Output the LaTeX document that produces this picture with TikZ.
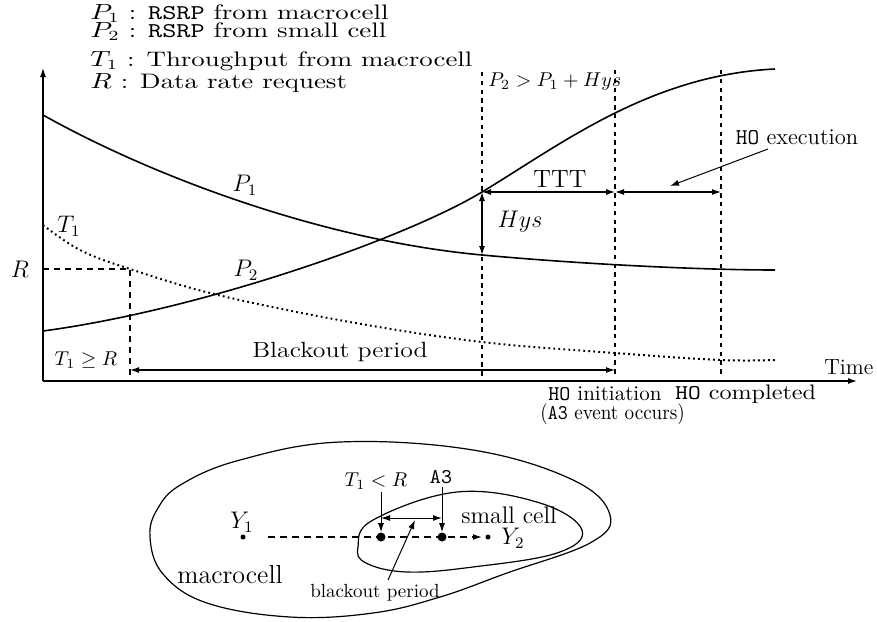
\documentclass[tikz,border=0pt]{standalone}
\usetikzlibrary{arrows.meta}
\begin{document}
\begin{tikzpicture}[x=0.5pt,y=-0.5pt,
  leg/.style={inner sep=0pt,font=\fontsize{10.5}{12}\selectfont,anchor=base west},
  lbl/.style={inner sep=0pt,font=\fontsize{12}{13}\selectfont},
  small/.style={inner sep=0pt,font=\fontsize{9.5}{10}\selectfont},
  mid/.style={inner sep=0pt,font=\fontsize{10.5}{12}\selectfont},
  curve/.style={line width=0.8pt},
  vdash/.style={line width=0.9pt,dash pattern=on 2.2pt off 2.2pt},
  tip/.style={-{Latex[length=4.5pt,width=3pt]}},
  tips/.style={{Latex[length=4.5pt,width=3pt]}-{Latex[length=4.5pt,width=3pt]}},
  dotc/.style={line width=1pt,dash pattern=on 0.9pt off 1.6pt},
  blob/.style={line width=0.6pt}]
\useasboundingbox (0,0) rectangle (877,621);
% legend
\node[leg] (l1) at (90,19) {\scalebox{1.28}[1]{$P_1$ : \texttt{RSRP} from macrocell}};
\node[leg] (l2) at (90,37) {\scalebox{1.28}[1]{$P_2$ : \texttt{RSRP} from small cell}};
\node[leg] (l3) at (90,66) {\scalebox{1.28}[1]{$T_1$ : Throughput from macrocell}};
\node[leg] (l4) at (90,88) {\scalebox{1.28}[1]{$R$ : Data rate request}};
% axes
\coordinate (o) at (43,381);
\coordinate (ytop) at (43,68);
\coordinate (xend) at (857,381);
\draw[line width=0.6pt,tip] (o) -- (ytop);
\draw[line width=0.6pt,tip] (o) -- (xend);
\node[inner sep=0pt,font=\fontsize{11}{12}\selectfont,anchor=west] (time) at (824,367) {Time};
% curves
\draw[curve] (43,115) .. controls (150,175) and (320,240) .. (482,255)
  .. controls (580,264) and (700,270) .. (775,270);
\draw[curve] (43,331) .. controls (200,310) and (404,239) .. (482,192)
  .. controls (560,145) and (650,75) .. (775,69);
\draw[dotc] plot[smooth,tension=0.6] coordinates {(43,225) (80,250) (130,269) (218,295) (350,322) (482,342) (615,353) (720,360) (775,360)};
\node[lbl] (p1) at (245,185) {$P_1$};
\node[lbl] (p2) at (246,270) {$P_2$};
\node[lbl] (t1) at (69,226) {$T_1$};
\node[lbl] (r) at (20,269) {$R$};
% R level
\coordinate (rl) at (43,269);
\coordinate (rc) at (130,269);
\coordinate (rb) at (130,381);
\draw[line width=0.6pt,dash pattern=on 3pt off 2.5pt] (rl) -- (rc) -- (rb);
\node[inner sep=0pt,font=\fontsize{10}{11}\selectfont] (t1ger) at (86,360) {$T_1\geq R$};
% vertical dashed lines
\coordinate (v1t) at (482,72); \coordinate (v1b) at (482,377);
\coordinate (v2t) at (615,70); \coordinate (v2b) at (615,377);
\coordinate (v3t) at (721,70); \coordinate (v3b) at (721,377);
\draw[vdash] (v1t) -- (v1b);
\draw[vdash] (v2t) -- (v2b);
\draw[vdash] (v3t) -- (v3b);
\node[inner sep=0pt,font=\fontsize{9.8}{11}\selectfont,anchor=west] (cond) at (488,82) {$P_2>P_1+Hys$};
% blackout period
\coordinate (b1) at (130,370); \coordinate (b2) at (615,370);
\draw[line width=0.6pt,tips] (b1) -- (b2);
\node[inner sep=0pt,font=\fontsize{11}{12}\selectfont] (bp) at (340,352) {\scalebox{1.17}[1]{Blackout period}};
% TTT and HO execution
\coordinate (a1) at (482,192); \coordinate (a2) at (615,192); \coordinate (a3) at (721,192);
\draw[line width=0.6pt,tips] (a1) -- (a2);
\draw[line width=0.6pt,tips] (a2) -- (a3);
\node[inner sep=0pt,font=\fontsize{12.5}{14}\selectfont] (ttt) at (560,179) {TTT};
\node[inner sep=0pt,font=\fontsize{11.3}{12}\selectfont] (hoe) at (797,137) {\texttt{HO} execution};
\coordinate (hoef) at (768,149);
\coordinate (hoet) at (670,186);
\draw[line width=0.5pt,tip] (hoef) -- (hoet);
% Hys
\coordinate (h1) at (482,192); \coordinate (h2) at (482,255);
\draw[line width=0.6pt,tips] (h1) -- (h2);
\node[lbl] (hys) at (520,222) {$Hys$};
% x labels
\node[mid,anchor=west] (hoi) at (548,394) {\texttt{HO} initiation};
\node[mid,anchor=west] (hoc) at (675,394) {\scalebox{1.15}[1]{\texttt{HO} completed}};
\node[mid,anchor=west] (a3e) at (540,414) {\scalebox{0.91}[1]{(\texttt{A3} event occurs)}};
% lower diagram
\draw[blob] plot[smooth cycle,tension=0.65] coordinates {(150,537) (158,508) (182,484) (240,460) (340,442) (473,450) (573,480) (610,515) (590,543) (507,573) (440,597) (373,613) (290,617) (207,603) (163,574)};
\draw[blob] plot[smooth cycle,tension=0.65] coordinates {(358,547) (373,520) (457,492) (540,503) (582,530) (557,553) (473,567) (407,572) (366,563)};
\node[inner sep=0pt,font=\fontsize{13}{14}\selectfont] (macro) at (230,575) {macrocell};
\node[lbl] (smallc) at (509,515) {small cell};
\node[fill,circle,inner sep=0pt,minimum size=2.5pt] (y1) at (243,537) {};
\node[fill,circle,inner sep=0pt,minimum size=2.5pt] (y2) at (488,537) {};
\node[lbl] (y1l) at (242,522) {$Y_1$};
\node[lbl] (y2l) at (513,538) {$Y_2$};
\node[fill,circle,inner sep=0pt,minimum size=4.5pt] (d1) at (381,537) {};
\node[fill,circle,inner sep=0pt,minimum size=4.5pt] (d2) at (442,537) {};
\coordinate (ds) at (268,537);
\coordinate (de) at (482,537);
\draw[line width=0.7pt,dash pattern=on 3.5pt off 2.5pt,tip] (ds) -- (de);
\node[inner sep=0pt,font=\fontsize{10}{11}\selectfont] (t1lr) at (376,481) {$T_1<R$};
\node[mid] (a3l) at (441,477) {\texttt{A3}};
\coordinate (u1) at (381,492); \coordinate (u2) at (442,487);
\draw[line width=0.5pt,tip] (u1) -- (d1.north);
\draw[line width=0.5pt,tip] (u2) -- (d2.north);
\coordinate (m1) at (381,518); \coordinate (m2) at (442,518);
\draw[line width=0.5pt,tips] (m1) -- (m2);
\node[small] (bpl) at (375,593) {blackout period};
\coordinate (bf) at (388,580); \coordinate (bt) at (415,520);
\draw[line width=0.5pt,tip] (bf) -- (bt);
\end{tikzpicture}
\end{document}
